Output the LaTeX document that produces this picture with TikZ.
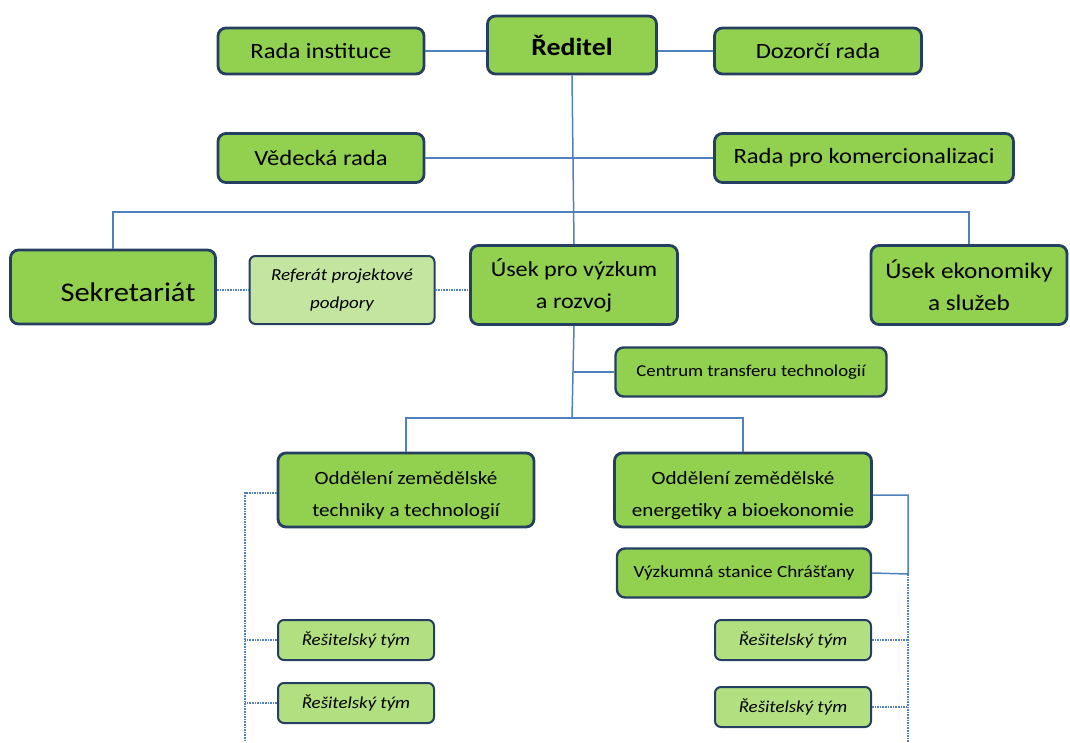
\documentclass[tikz,border=0pt]{standalone}
\usepackage{fontspec}
\setmainfont{Carlito}[FakeStretch=1.13]
\usepackage{xcolor}
\usetikzlibrary{positioning}
\definecolor{boxgreen}{HTML}{92D050}
\definecolor{palegreen}{HTML}{C4E59F}
\definecolor{teamgreen}{HTML}{B2DF80}
\definecolor{boxedge}{HTML}{243F60}
\definecolor{linkblue}{HTML}{4F81BD}
\newcommand{\fs}[2]{\fontsize{#1}{#2}\selectfont}
\newcommand{\topstrut}{\rule{0pt}{24pt}}

\begin{document}
\begin{tikzpicture}[
x=1pt,y=-1pt,
MyBoxes/.style={draw=boxedge,fill=boxgreen,line width=2.8pt,rounded corners=8pt,align=center,inner sep=0pt},
SmallBoxes/.style={draw=boxedge,fill=teamgreen,line width=2pt,rounded corners=6pt,align=center,inner sep=0pt,font=\fs{16.7}{20}\itshape},
Links/.style={draw=linkblue,line width=1.5pt},
DotLinks/.style={draw=linkblue,line width=1.6pt,densely dotted}
]
\useasboundingbox (0,0) rectangle (1070,742);

% top level
\node[MyBoxes, minimum width=169pt, minimum height=58pt, font=\fs{24.6}{28}\bfseries] (reditel) at (572,45) {Ředitel};
\node[MyBoxes, minimum width=206pt, minimum height=46pt, font=\fs{21.8}{24}] (rada) at (321,51) {Rada instituce};
\node[MyBoxes, minimum width=207pt, minimum height=46pt, font=\fs{21.8}{24}] (dozor) at (818,51) {Dozorčí rada};

\node[MyBoxes, minimum width=206pt, minimum height=49pt, font=\fs{21.8}{24}] (vedecka) at (321,158) {Vědecká rada};
\node[MyBoxes, minimum width=299pt, minimum height=49pt, font=\fs{21.8}{24}] (komerc) at (864,158) {Rada pro komercionalizaci};

% useky
\node[MyBoxes, minimum width=205pt, minimum height=74pt, font=\fs{27}{30}] (sekret) at (113,287) {\raisebox{-5pt}[\height][\depth]{\hspace*{30pt}Sekretariát}};
\node[SmallBoxes, fill=palegreen, minimum width=185pt, minimum height=68pt, font=\fs{16.8}{28}\itshape] (referat) at (342,290) {Referát projektové\\ podpory};
\node[MyBoxes, minimum width=207pt, minimum height=79pt, font=\fs{21.4}{32}] (usekvv) at (574,285) {Úsek pro výzkum\\ a rozvoj};
\node[MyBoxes, minimum width=196pt, minimum height=79pt, font=\fs{22.3}{32}] (usekek) at (969,285) {Úsek ekonomiky\\ a služeb};

\node[MyBoxes, line width=2.4pt, minimum width=271pt, minimum height=49pt, font=\fs{16.6}{20}] (centrum) at (751,372) {Centrum transferu technologií};

% oddeleni
\node[MyBoxes, minimum width=256pt, minimum height=74pt, font=\fs{18.7}{32}] (odd1) at (406,490) {\topstrut Oddělení zemědělské\\ techniky a technologií};
\node[MyBoxes, minimum width=257pt, minimum height=74pt, font=\fs{18.7}{32}] (odd2) at (743,490) {\topstrut Oddělení zemědělské\\ energetiky a bioekonomie};
\node[MyBoxes, line width=2.4pt, minimum width=254pt, minimum height=49pt, font=\fs{17}{20}] (stanice) at (744,573) {Výzkumná stanice Chrášťany};

% resitelske tymy
\node[SmallBoxes, minimum width=156pt, minimum height=40pt] (tym1) at (356,640) {Řešitelský tým};
\node[SmallBoxes, minimum width=156pt, minimum height=40pt] (tym2) at (356,703) {Řešitelský tým};
\node[SmallBoxes, minimum width=156pt, minimum height=40pt] (tym3) at (793,640) {Řešitelský tým};
\node[SmallBoxes, minimum width=156pt, minimum height=40pt] (tym4) at (793,707) {Řešitelský tým};

\coordinate (busA) at (572,212);
\coordinate (busB) at (572,418);
\coordinate (rmid) at (908,574);
\coordinate (rend) at (908,742);
\coordinate (lend) at (245,742);

% solid links
\draw[Links] (rada.east) -- (rada.east -| reditel.west);
\draw[Links] (dozor.west) -- (dozor.west -| reditel.east);
\draw[Links] (vedecka.east) -- (komerc.west);
\draw[Links] (reditel.south) -- (usekvv.north);
\draw[Links] (sekret.north) -- (sekret.north |- busA) -- (usekek.north |- busA) -- (usekek.north);
\draw[Links] (usekvv.south) -- (busB);
\draw[Links] (usekvv.south |- centrum.west) -- (centrum.west);
\draw[Links] (odd1.north) -- (odd1.north |- busB) -- (odd2.north |- busB) -- (odd2.north);
\draw[Links] ([yshift=-5pt]odd2.east) -| (rmid) -- (stanice.east);

% dotted links
\draw[DotLinks] (referat.west -| sekret.east) -- (referat.west);
\draw[DotLinks] (referat.east) -- (referat.east -| usekvv.west);
\draw[DotLinks] ([yshift=-3pt]odd1.west) -| (lend);
\draw[DotLinks] (tym1.west) -- (tym1.west -| lend);
\draw[DotLinks] (tym2.west) -- (tym2.west -| lend);
\draw[DotLinks] (rmid) -- (rend);
\draw[DotLinks] (tym3.east) -- (tym3.east -| rend);
\draw[DotLinks] (tym4.east) -- (tym4.east -| rend);

\end{tikzpicture}
\end{document}
